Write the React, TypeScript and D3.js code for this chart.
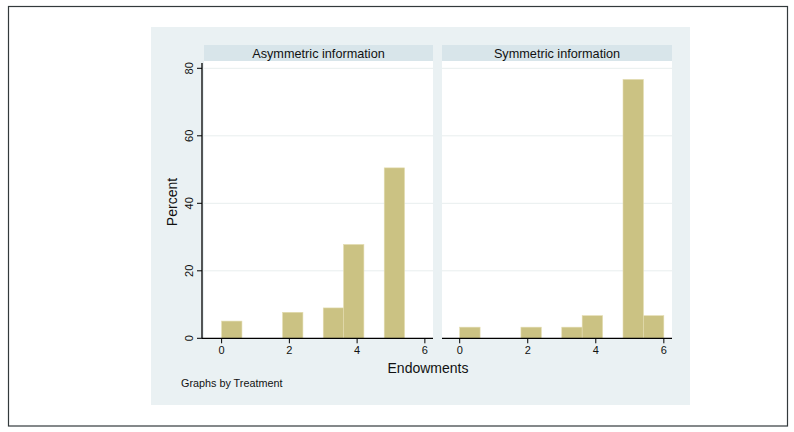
import React from "react";
import * as d3 from "d3";

const binEdges = [0, 0.6, 1.2, 1.8, 2.4, 3.0, 3.6, 4.2, 4.8, 5.4, 6.0];
const panelTitles = ["Asymmetric information", "Symmetric information"];
const asymPercent = [5.1, 0, 0, 7.7, 0, 9.0, 27.8, 0, 50.5, 0];
const symPercent = [3.3, 0, 0, 3.3, 0, 3.3, 6.7, 0, 76.7, 6.7];
const xTicks = [0, 2, 4, 6];
const yTicks = [0, 20, 40, 60, 80];

const FONT = "'Liberation Sans', Arial, Helvetica, sans-serif";
const BAR = "#cbc283";
const BAR_EDGE = "#e3dcb0";

export default function App() {
  const W = 794, H = 432;
  const plotTop = 61, plotBottom = 338.3;
  const y = d3.scaleLinear().domain([0, 80]).range([plotBottom, 68.3]);
  const panels = [
    { x0: 204, x1: 433, data: asymPercent, title: panelTitles[0] },
    { x0: 442, x1: 672, data: symPercent, title: panelTitles[1] },
  ];
  return (
    <svg width={W} height={H} style={{ position: "absolute", left: 0, top: 0 }} fontFamily={FONT}>
      <rect x={0} y={0} width={W} height={H} fill="#ffffff" />
      <rect x={8.5} y={6.5} width={779} height={419.5} fill="#ffffff" stroke="#333a3c" strokeWidth={1.2} />
      <rect x={151} y={27} width={539} height={378} fill="#eaf1f3" />
      {panels.map((p, i) => {
        const x = d3.scaleLinear().domain([-0.52, 6.24]).range([p.x0, p.x1]);
        return (
          <g key={i}>
            <rect x={p.x0} y={45} width={p.x1 - p.x0} height={16} fill="#d8e5ea" />
            <text x={(p.x0 + p.x1) / 2} y={57.5} textAnchor="middle" fontSize={12.7} fill="#111">{p.title}</text>
            <rect x={p.x0} y={plotTop} width={p.x1 - p.x0} height={plotBottom - plotTop} fill="#ffffff" />
            {yTicks.filter(t => t > 0).map(t => (
              <line key={t} x1={p.x0} x2={p.x1} y1={y(t)} y2={y(t)} stroke="#e8eeee" strokeWidth={1} />
            ))}
            {p.data.map((v, j) => v > 0 ? (
              <rect key={j} x={x(binEdges[j])} y={y(v)} width={x(binEdges[j + 1]) - x(binEdges[j])} height={y(0) - y(v)}
                fill={BAR} stroke={BAR_EDGE} strokeWidth={0.6} />
            ) : null)}
            <line x1={i === 0 ? 202 : p.x0} x2={p.x1} y1={plotBottom} y2={plotBottom} stroke="#000" strokeWidth={1.3} />
            {xTicks.map(t => (
              <g key={t}>
                <line x1={x(t)} x2={x(t)} y1={plotBottom} y2={plotBottom + 5} stroke="#000" strokeWidth={1} />
                <text x={x(t)} y={plotBottom + 16} textAnchor="middle" fontSize={11} fill="#111">{t}</text>
              </g>
            ))}
          </g>
        );
      })}
      <line x1={202} x2={202} y1={plotTop + 2} y2={plotBottom} stroke="#000" strokeWidth={1.3} />
      {yTicks.map(t => (
        <g key={t}>
          <line x1={197} x2={202} y1={y(t)} y2={y(t)} stroke="#000" strokeWidth={1} />
          <text transform={`translate(193,${y(t)}) rotate(-90)`} textAnchor="middle" fontSize={11} fill="#111">{t}</text>
        </g>
      ))}
      <text transform={`translate(177,202) rotate(-90)`} textAnchor="middle" fontSize={14} fill="#111">Percent</text>
      <text x={428} y={373} textAnchor="middle" fontSize={14} fill="#111">Endowments</text>
      <text x={181} y={387} fontSize={10.8} fill="#111">Graphs by Treatment</text>
    </svg>
  );
}
